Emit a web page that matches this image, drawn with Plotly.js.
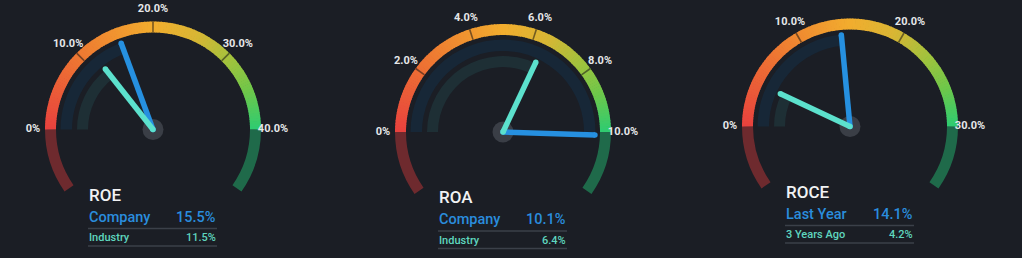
<!DOCTYPE html>
<html>
<head>
<meta charset="utf-8">
<script src="https://cdn.plot.ly/plotly-3.0.1.min.js"></script>
<style>
html,body{margin:0;padding:0;background:#1b1e25;}
#chart{width:1022px;height:258px;}
</style>
</head>
<body>
<div id="chart"></div>
<script>
// ---- data ----
const metricNames = ['ROE', 'ROA', 'ROCE'];
const scaleMax = [40, 10, 30];
const tickValues = [[0, 10, 20, 30, 40], [0, 2, 4, 6, 8, 10], [0, 10, 20, 30]];
const tickLabels = [
  ['0%', '10.0%', '20.0%', '30.0%', '40.0%'],
  ['0%', '2.0%', '4.0%', '6.0%', '8.0%', '10.0%'],
  ['0%', '10.0%', '20.0%', '30.0%']
];
const primaryLabels = ['Company', 'Company', 'Last Year'];
const primaryValues = [15.5, 10.1, 14.1];
const secondaryLabels = ['Industry', 'Industry', '3 Years Ago'];
const secondaryValues = [11.5, 6.4, 4.2];

// ---- layout constants ----
const W = 1022, H = 258;
const centers = [[153, 129.5], [503, 132], [850, 126.5]];
const R = 125;            // radial range (1 unit = 1px)
const BG = '#1b1e25';
const BLUE = '#2690e0';
const TEAL = '#5ce1cd';

const px = x => x / W;
const py = y => 1 - y / H;

const traces = [];
const layout = {
  width: W, height: H,
  margin: {l: 0, r: 0, t: 0, b: 0},
  paper_bgcolor: BG, plot_bgcolor: BG,
  showlegend: false,
  annotations: [],
  shapes: [],
  font: {family: 'Roboto, sans-serif'}
};

const scale = ['#e8413e', '#ee7832', '#f2ad2e', '#d9b634', '#9cc43e', '#6ec74a', '#2ecc71'];
const scalePos = [0, 0.25, 0.5, 0.64, 0.78, 0.88, 1];
const colorscale = scale.map((c, i) => [scalePos[i], c]);

metricNames.forEach((name, i) => {
  const key = i === 0 ? 'polar' : 'polar' + (i + 1);
  const [cx, cy] = centers[i];
  const max = scaleMax[i];
  const deg = v => v / max * 180;

  layout[key] = {
    domain: {x: [px(cx - R), px(cx + R)], y: [py(cy + R), py(cy - R)]},
    bgcolor: 'rgba(0,0,0,0)',
    barmode: 'overlay',
    bargap: 0,
    radialaxis: {range: [0, R], visible: false, showgrid: false},
    angularaxis: {rotation: 180, direction: 'clockwise', visible: false, showgrid: false, thetaunit: 'degrees'}
  };

  // gradient arc
  const N = 120;
  const th = [], wd = [], rr = [], cc = [];
  for (let k = 0; k < N; k++) {
    th.push((k + 0.5) * 180 / N);
    wd.push(180 / N + 0.4);
    rr.push(11);
    cc.push((k + 0.5) / N);
  }
  traces.push({type: 'barpolar', subplot: key, theta: th, width: wd, r: rr, base: 97,
    marker: {color: cc, colorscale: colorscale, cmin: 0, cmax: 1, line: {width: 0}},
    hoverinfo: 'skip'});

  // lower dark arcs
  traces.push({type: 'barpolar', subplot: key, theta: [-17.5, 197.5], width: [35, 35], r: [11, 11], base: 97,
    marker: {color: ['#6e2a2e', '#1f6a4a'], line: {width: 0}}, hoverinfo: 'skip'});

  // tick separators
  const inner = tickValues[i].slice(1, -1);
  traces.push({type: 'barpolar', subplot: key, theta: inner.map(deg), width: inner.map(() => 0.9),
    r: inner.map(() => 11), base: 97,
    marker: {color: 'rgba(25,22,20,0.55)', line: {width: 0}}, hoverinfo: 'skip'});

  // value bands
  const dp = deg(primaryValues[i]), ds = deg(secondaryValues[i]);
  traces.push({type: 'barpolar', subplot: key, theta: [dp / 2], width: [dp], r: [11.5], base: 81,
    marker: {color: '#172737', line: {width: 0}}, hoverinfo: 'skip'});
  traces.push({type: 'barpolar', subplot: key, theta: [ds / 2], width: [ds], r: [11], base: 65,
    marker: {color: '#1e2f35', line: {width: 0}}, hoverinfo: 'skip'});

  // center hub
  traces.push({type: 'scatterpolar', subplot: key, mode: 'markers', r: [0], theta: [0],
    marker: {size: 21, color: '#3a3e46'}, hoverinfo: 'skip', cliponaxis: false});

  // needles
  traces.push({type: 'scatterpolar', subplot: key, mode: 'lines+markers', r: [0, 92], theta: [dp, dp],
    line: {color: BLUE, width: 5.5}, marker: {color: BLUE, size: 5.5}, hoverinfo: 'skip', cliponaxis: false});
  traces.push({type: 'scatterpolar', subplot: key, mode: 'lines+markers', r: [0, 77], theta: [ds, ds],
    line: {color: TEAL, width: 5.5}, marker: {color: TEAL, size: 5.5}, hoverinfo: 'skip', cliponaxis: false});

  // tick labels
  traces.push({type: 'scatterpolar', subplot: key, mode: 'text', r: tickValues[i].map(() => 120),
    theta: tickValues[i].map(deg), text: tickLabels[i],
    textfont: {family: 'Roboto, sans-serif', size: 11, color: '#e6e7e9', weight: 700},
    hoverinfo: 'skip', cliponaxis: false});

  // bottom text block
  const x0 = cx - 65, x1 = cx + 64;
  layout.annotations.push({xref: 'paper', yref: 'paper', x: px(x0 - 1), y: py(cy + 65), xanchor: 'left', yanchor: 'middle',
    text: name, showarrow: false, font: {size: 17, color: '#f1f2f3', weight: 500}});
  layout.annotations.push({xref: 'paper', yref: 'paper', x: px(x0 - 1), y: py(cy + 87.5), xanchor: 'left', yanchor: 'middle',
    text: primaryLabels[i], showarrow: false, font: {size: 14.5, color: '#2a8ddd', weight: 500}});
  layout.annotations.push({xref: 'paper', yref: 'paper', x: px(x1 + 1), y: py(cy + 87.5), xanchor: 'right', yanchor: 'middle',
    text: primaryValues[i].toFixed(1) + '%', showarrow: false, font: {size: 14.5, color: '#2a8ddd', weight: 500}});
  layout.annotations.push({xref: 'paper', yref: 'paper', x: px(x0 - 1), y: py(cy + 108), xanchor: 'left', yanchor: 'middle',
    text: secondaryLabels[i], showarrow: false, font: {size: 11, color: '#5fd6bf', weight: 500}});
  layout.annotations.push({xref: 'paper', yref: 'paper', x: px(x1 + 1), y: py(cy + 108), xanchor: 'right', yanchor: 'middle',
    text: secondaryValues[i].toFixed(1) + '%', showarrow: false, font: {size: 11, color: '#5fd6bf', weight: 500}});
  [99, 116.5].forEach(dy => {
    layout.shapes.push({type: 'line', xref: 'paper', yref: 'paper', x0: px(x0), x1: px(x1), y0: py(cy + dy), y1: py(cy + dy),
      line: {color: '#3b4049', width: 1.5}});
  });
});

Plotly.newPlot('chart', traces, layout, {staticPlot: true, displayModeBar: false});
</script>
</body>
</html>
